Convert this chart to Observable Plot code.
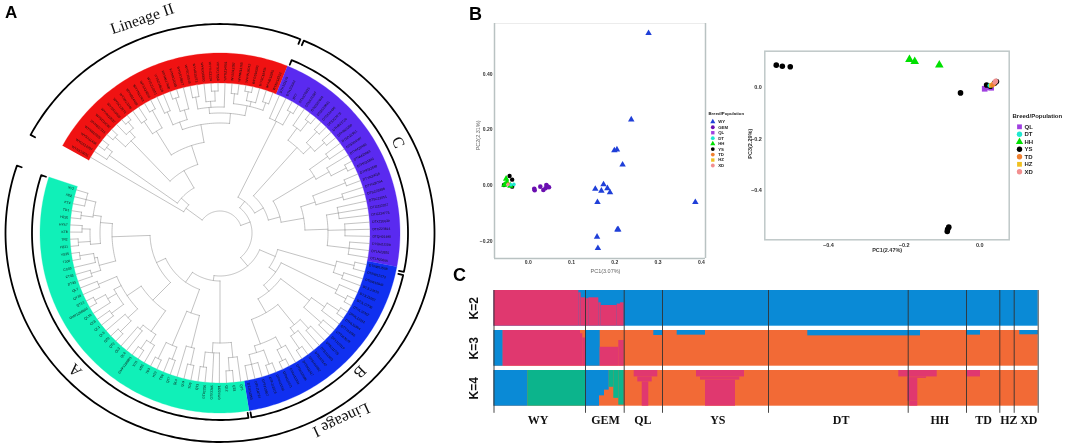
<!DOCTYPE html>
<html><head><meta charset="utf-8">
<script src="https://cdn.jsdelivr.net/npm/d3@7"></script>
<script src="https://cdn.jsdelivr.net/npm/@observablehq/plot@0.6"></script>
<style>
html,body{margin:0;padding:0;background:#fff;overflow:hidden}
#fig{position:relative;width:1065px;height:445px;overflow:hidden;filter:blur(.3px)}
#fig>svg{position:absolute;display:block}
.panel{position:absolute;font:bold 18px "Liberation Sans",sans-serif;color:#000;line-height:1}
</style></head><body><div id="fig"></div>
<script>
// ---------- A: tree data (angle in degrees clockwise from north, radii in tree units)
const sectors=[["II","#f01212",-61,22],["C","#5a2af0",22,100.8],["B","#1030f0",100.8,170.7],["A","#10f0b8",170.7,288.1]];
const redLabels="WYNX15031 WYGS12207 WYSX11438 WYNM10925 WYHB17316 WYSD14082 WYHN10637 WYGS15520 WYSC12971 WYNX13346 WYHB14418 WYYN11763 WYSX19204 WYGZ10351 WYSD16628 WYNM17490 WYHN12035 WYGS18817 WYSC10546 WYHB15273 WYNX16690 WYYN13124 WYSX17358 WYGZ14901 WYSD11287 WYNM13765 WYHN16042 WYGS10193 WYSC19436 WYHB12850 WYNX18312".split(" ");
const purpleLabels="DTXJ23176 DTXJ23042 DT7 DTNX20915 DTNX21387 DTGS22604 DTGS20831 DTSX24490 DTSX23175 DTHB21726 DTHB20368 DTSD22951 DTSD24107 DTNM20483 DTNM23669 DTHN21842 DTHN22530 DTYN24016 DTYN20794 DTSC23388 DTSC21051 DTGZ22267 DTGZ24773 DTXZ20639 DTXZ23814 DTQH21490 DTQH22108 DTLN23925 DTLN20266".split(" ");
const blueLabels="DTNW11508 DTNW12273 DTNW10946 DTJL13615 DTJL11082 DTJL12730 DTHL10457 DTHL13291 DTHL11864 DTTJ12046 DTTJ13578 DTTJ10319 DTBJ11725 DTBJ12693 DTBJ13140 DTSH10852 DTSH11417 DTSH12986 DTAH13304 DTAH10671 DTAH11539 DTFJ12218 DTFJ13867 DTFJ10724 DTJX11953".split(" ");
const greenLabels="QT5 QT8 QL2 GTX2281 GTX2285 GTX2290 QT3 TD9 QL9 QL4 QT7 TD6 HZ2 TD3 XD5 XD1 GMP1286851 QL6 QL3 QT2 QT9 QL5 QL1 QL8 QL10 GMP1286849 QT13 QY38 QL7 DT33 CT33 CC03 TJ06 YS25 HZ21 TR2 KT8 HYS7 HZ26 TD1 KT4 XD2 XY2".split(" ");
// node = [radius or [radius, angle], ...children]; a number child n is n leaves
const redClade=[[42,-54],1,[[52,-48],[135,1,[142,2]],[[72,-30],[[128,-44],[142,2],[136,1,[144,2]]],[[92,-18],[[120,-32],[135,1,1],[140,2]],[[110,-10],[[118,-20],[132,2],[128,[142,2],1]],[[120,5],[[126,-5],[138,2],[132,1,[142,2]],1],[[130,12],[140,2],[135,[144,2],1],[138,1,1]]]]]]]];
const cladeC=[[40,38],[125,2,[140,2]],[[50,60],[[115,42],[130,1,[142,2]],[125,[140,2],[138,1,1]]],[[62,75],[[110,59],[132,2],[125,1,[142,2]]],[[85,80],[[100,72],[135,2],[128,1,1]],[[108,88],[120,3],[125,3],[130,3]]]]]];
const cladeB=[[60,113],[[120,106],[138,2],[130,2]],[[68,125],[[130,116],1,[142,1,1]],[[76,140],[[112,127],[128,[142,2],1],[135,2]],[[92,150],[[118,141],[130,2],[125,1,[140,2]]],[[118,160],[130,1,[142,2]],[125,[140,2],[135,3]]]]]]];
const cladeA=[[48,188],[[110,180],[125,1,[138,2]],[120,2,[135,2]]],[[60,215],[[85,200],[[118,194],[135,2],1],[[122,203],[135,2],[140,2]]],[[70,245],[[95,225],[[120,215],[130,1,[140,2]],[125,2]],[[112,236],[125,[140,2],1],[[120,242],[135,2],[130,1,[142,2]]],[132,2]]],[[108,268],[[125,255],[135,2],[128,1,[142,2]]],[[120,275],[[130,265],[142,2],[138,2]],[[128,278],[140,2],[138,1,2]]]]]]];
const treeRoot=[22,redClade,[[32,70],cladeC,[[43,140],cladeB,cladeA]]];
const leafRadius=150;
const cladeArcs=[{name:"C",r:[188,187],a0:22.4,a1:102},{name:"B",r:[188,187],a0:103,a1:170.4},{name:"A",r:[188,187],a0:171.3,a1:288},
 {name:"Lineage II",r:[214.5,209],a0:-62,a1:22},{name:"Lineage I",r:[214.5,209],a0:23,a1:288.8}];
const cladeTexts=[{t:"Lineage II",a:-20,r:228,rot:-19},{t:"C",a:63,r:200,rot:68},{t:"B",a:134.8,r:197,rot:135},{t:"A",a:226.6,r:199.5,rot:226},{t:"Lineage I",a:147,r:223,rot:155}];

// ---------- B: PCA 1
const pc1Names=["WY","GEM","QL","DT","HH","YS","TD","HZ","XD"];
const pc1Colors=["#1f3fd8","#6a0fb0","#a040e0","#20e8d0","#00e000","#000000","#f08030","#f0c020","#f28f8f"];
const pc1Symbols=["triangle","circle","square","circle","triangle","circle","circle","square","circle"];
const wy1=[[.278,.547],[.238,.237],[.199,.126],[.205,.129],[.218,.075],[.174,.004],[.155,-.012],[.169,-.019],[.183,-.010],[.189,-.025],[.160,-.060],[.386,-.060],[.206,-.158],[.208,-.158],[.159,-.184],[.161,-.225]];
const gem1=[[.014,-.012],[.015,-.017],[.028,-.004],[.035,-.016],[.040,-.010],[.042,.002],[.045,-.004],[.048,-.006]];
const ys1=[[-.043,.034],[-.037,.021],[-.056,.002],[-.037,-.004]];
const hh1=[[-.051,.024],[-.055,.002],[-.041,-.001],[-.049,.012]];
const dt1=[[-.033,.004],[-.040,.003]];
const td1=[[-.046,.006]];
const xd1=[[-.047,.004]];

// ---------- B: PCA 2
const pc2Names=["QL","DT","HH","YS","TD","HZ","XD"];
const pc2Colors=["#a040e0","#20e8d0","#00e000","#000000","#f08030","#f0c020","#f28f8f"];
const pc2Symbols=["square","circle","triangle","circle","circle","square","circle"];
const ys2=[[-.538,.087],[-.522,.083],[-.501,.081],[-.051,-.021],[-.082,-.544],[-.085,-.552],[-.086,-.561],[.018,.010],[.028,.005],[.044,.023],[.039,.017]];
const hh2=[[-.186,.109],[-.172,.101],[-.107,.088]];
const ql2=[[.013,-.005],[.030,-.001],[.024,.001]];
const dt2=[[.026,.008]];
const td2=[[.033,.010],[.037,.014]];
const hz2=[[.030,.008],[.035,.012]];
const xd2=[[.040,.021],[.042,.025]];

// ---------- C: structure
const popNames=["WY","GEM","QL","YS","DT","HH","TD","HZ","XD"];
const popEdges=[0,91.5,130.2,168.5,274.5,414.2,472.5,505.8,520.2,544.2];
const popCenters=[44.2,111.5,148.8,223.8,347.2,445.8,489.5,514.8,534.8];
const kNames=["K=2","K=3","K=4"];
const blue="#0a8ad6",pink="#e0386f",orange="#f26a36",green="#0cb48c";
const rowBase=[blue,orange,orange];
// [x0, x1, q0, q1, colour]
const k2Blocks=[[0,84.8,0,1,pink],[84.8,87.2,.065,1,pink],[87.2,91.5,.205,1,pink],[91.5,94.8,.23,1,pink],[94.8,104.8,.205,1,pink],[104.8,107.2,.345,1,pink],[107.2,123.2,.42,1,pink],[123.2,126.5,.38,1,pink],[126.5,130.2,.345,1,pink]];
const k3Blocks=[[0,9.2,0,1,blue],[9.2,86.5,0,1,pink],[86.5,88.8,.09,1,pink],[88.8,91.5,.21,1,pink],[91.5,106.2,0,1,blue],[106.2,124.8,.47,1,pink],[124.8,130.2,.28,1,pink],[159.8,168.5,0,.14,blue],[183.2,211.5,0,.13,blue],[313.8,426.5,0,.15,blue],[472.5,486.5,0,.13,blue],[525.8,544.2,0,.12,blue]];
const k4Blocks=[[0,33.8,0,1,blue],[33.8,91.5,0,1,green],[91.5,105.5,0,1,blue],[105.5,110.5,0,.71,blue],[110.5,115.2,0,.55,blue],[115.2,119.8,0,.47,green],[119.8,124.8,0,.78,green],[124.8,130.2,0,.97,green],[140.2,163.8,0,.18,pink],[143.8,158.2,.18,.32,pink],[148.2,154.8,.32,1,pink],[202.5,250.5,0,.18,pink],[206.5,245.8,.18,.27,pink],[211.5,241.5,.27,1,pink],[404.8,443.2,0,.18,pink],[413.8,432.5,.18,.22,pink],[413.8,423.8,.22,.86,pink],[415.8,423.8,.86,1,pink],[472.5,486.5,0,.18,pink]];

// ---------- helpers
const fig=document.getElementById("fig");
function place(svg,l,t){svg.style.left=l+"px";svg.style.top=t+"px";fig.appendChild(svg);}
function letter(t,l,top,s){const d=document.createElement("div");d.className="panel";d.textContent=t;d.style.left=l+"px";d.style.top=top+"px";d.style.fontSize=s+"px";fig.appendChild(d);}
const cx=219.5,cy=232.5,rad=Math.PI/180;
const px=(a,r)=>cx+r*Math.sin(a*rad), py=(a,r)=>cy-r*Math.cos(a*rad);
function arc(a0,a1,rx,ry=rx){const n=Math.max(2,Math.ceil(Math.abs(a1-a0)));return d3.range(n+1).map(i=>{const a=a0+(a1-a0)*i/n;return [px(a,rx),py(a,ry)];});}

// layout the tree
const branchPaths=[],leaves=[];
const expand=n=>{const k=[];n.slice(1).forEach(c=>{if(typeof c==="number")for(let i=0;i<c;i++)k.push(null);else k.push(c);});return k;};
function countLeaves(n){return expand(n).reduce((s,c)=>s+(c?countLeaves(c):1),0);}
function layout(n,cursor){
  const rr=Array.isArray(n[0])?n[0][0]:n[0], over=Array.isArray(n[0])?n[0][1]:null;
  const as=expand(n).map(c=>{
    if(c)return layout(c,cursor);
    const a=cursor.next();leaves.push({a,sector:cursor.sector});return {a,r:leafRadius};
  });
  const lo=as[0].a,hi=as[as.length-1].a,own=over??(lo+hi)/2;
  branchPaths.push(arc(Math.min(lo,own),Math.max(hi,own),rr));
  as.forEach(k=>branchPaths.push([[px(k.a,rr),py(k.a,rr)],[px(k.a,k.r),py(k.a,k.r)]]));
  return {a:own,r:rr};
}
function cursorFor(sec,clade){const n=countLeaves(clade),st=(sec[3]-sec[2])/n;let i=0;return {sector:sec[0],next(){return sec[2]+st*(i++ +.5);}};}
const cladeCursor=new Map([[redClade,cursorFor(sectors[0],redClade)],[cladeC,cursorFor(sectors[1],cladeC)],[cladeB,cursorFor(sectors[2],cladeB)],[cladeA,cursorFor(sectors[3],cladeA)]]);
function walk(n){ // internal nodes above the four clades
  const rr=Array.isArray(n[0])?n[0][0]:n[0], over=Array.isArray(n[0])?n[0][1]:null;
  const as=n.slice(1).map(c=>cladeCursor.has(c)?layout(c,cladeCursor.get(c)):walk(c));
  const lo=as[0].a,hi=as[as.length-1].a,own=over??(lo+hi)/2;
  branchPaths.push(arc(lo,hi,rr));
  as.forEach(k=>branchPaths.push([[px(k.a,rr),py(k.a,rr)],[px(k.a,k.r),py(k.a,k.r)]]));
  return {a:own,r:rr};
}
walk(treeRoot);
const labelsBySector={II:redLabels.slice(),C:purpleLabels.slice(),B:blueLabels.slice(),A:greenLabels.slice()};
leaves.forEach(l=>{l.t=labelsBySector[l.sector].shift()||"";});
const toPts=(paths)=>paths.flatMap((p,i)=>p.map(q=>({x:q[0],y:q[1],i})));
const ringPts=sectors.flatMap(s=>[...arc(s[2],s[3],180),...arc(s[3],s[2],150)].map(q=>({x:q[0],y:q[1],s:s[1]})));
const bracketPaths=cladeArcs.map(b=>{const [rx,ry]=b.r,k=5;return [[px(b.a0,rx-k),py(b.a0,ry-k)],...arc(b.a0,b.a1,rx,ry),[px(b.a1,rx-k),py(b.a1,ry-k)]];});
const lab=leaves.filter(l=>l.t);
const rotR=d=>d.a-90, rotL=d=>d.a+90, isL=d=>((d.a+360)%360)>180;
const labelR=152.5;

// ---------- Panel A
place(Plot.plot({width:440,height:445,margin:0,style:{background:"transparent"},
  x:{domain:[0,440],range:[0,440],axis:null},y:{domain:[0,445],range:[0,445],axis:null},
  marks:[
    ...sectors.map(s=>Plot.line(ringPts.filter(d=>d.s===s[1]),{x:"x",y:"y",fill:s[1],stroke:s[1],strokeWidth:.3})),
    Plot.line(toPts(branchPaths),{x:"x",y:"y",z:"i",stroke:"#9a9a9a",strokeWidth:.6,curve:"linear"}),
    Plot.line(toPts(bracketPaths),{x:"x",y:"y",z:"i",stroke:"#000",strokeWidth:1.8,curve:"linear"}),
    Plot.text(lab.filter(d=>!isL(d)),{x:d=>px(d.a,labelR),y:d=>py(d.a,labelR),text:"t",rotate:rotR,textAnchor:"start",fontSize:3.3,fill:"#111",fontFamily:"Liberation Sans"}),
    Plot.text(lab.filter(isL),{x:d=>px(d.a,labelR),y:d=>py(d.a,labelR),text:"t",rotate:rotL,textAnchor:"end",fontSize:3.3,fill:"#111",fontFamily:"Liberation Sans"}),
    Plot.text(cladeTexts,{x:d=>px(d.a,d.r),y:d=>py(d.a,d.r),text:"t",rotate:"rot",fontSize:16,fill:"#111",fontFamily:"Liberation Serif"})
  ]}),0,0);

// ---------- Panel B scatter plots
function series(arr,sym,fill,r){return Plot.dot(arr,{x:d=>d[0],y:d=>d[1],symbol:sym,fill,r});}
const axisTitles1=[{t:"PC1(3.07%)",x:.1785,y:-.309,r:0},{t:"PC2(2.31%)",x:-.1148,y:.18,r:-90}];
const axisTitles2=[{t:"PC1(2.47%)",x:-.2448,y:-.632,r:0},{t:"PC3(2.29%)",x:-.608,y:-.219,r:-90}];
place(Plot.plot({width:290,height:275,marginLeft:34,marginRight:45,marginTop:23,marginBottom:17,
  style:{background:"transparent",fontFamily:"Liberation Sans",fontSize:"5px",fontWeight:"bold"},
  x:{domain:[-.0778,.4095]},y:{domain:[-.262,.5817]},
  marks:[
    Plot.axisX({ticks:[0,.1,.2,.3,.4],tickFormat:d3.format(".1f"),tickSize:0,tickPadding:2,label:null,fill:"#333"}),
    Plot.axisY({ticks:[-.2,0,.2,.4],tickFormat:d3.format(".2f"),tickSize:0,tickPadding:2,label:null,fill:"#333"}),
    Plot.text(axisTitles1,{x:"x",y:"y",text:"t",rotate:"r",fill:"#666",fontSize:5.5,fontWeight:"normal"}),
    Plot.ruleY([.5817],{stroke:"#ececec",strokeWidth:1}),
    Plot.ruleY([-.262],{stroke:"#b9c2c2",strokeWidth:1.5}),
    Plot.ruleX([-.0778,.4095],{stroke:"#b9c2c2",strokeWidth:1.5}),
    series(wy1,"triangle",pc1Colors[0],2.4),series(gem1,"circle",pc1Colors[1],2.3),
    series(ys1,"circle","#000",2.2),series(hh1,"triangle",pc1Colors[4],2.4),series(dt1,"circle",pc1Colors[3],1.8),
    series(td1,"circle",pc1Colors[6],1.5),series(xd1,"circle",pc1Colors[8],1.6)
  ]}),460,0);
place(Plot.plot({width:320,height:240,marginLeft:19.3,marginRight:56.3,marginTop:20.7,marginBottom:30.7,
  style:{background:"transparent",fontFamily:"Liberation Sans",fontSize:"5.5px",fontWeight:"bold"},
  x:{domain:[-.5683,.0777]},y:{domain:[-.5933,.1414]},
  marks:[
    Plot.axisX({ticks:[-.4,-.2,0],tickFormat:d3.format(".1f"),tickSize:0,tickPadding:3,label:null,fill:"#333"}),
    Plot.axisY({ticks:[-.4,-.2,0],tickFormat:d3.format(".1f"),tickSize:0,tickPadding:3,label:null,fill:"#333"}),
    Plot.text(axisTitles2,{x:"x",y:"y",text:"t",rotate:"r",fill:"#333",fontSize:5.5}),
    Plot.frame({stroke:"#bfc8c8",strokeWidth:1.5}),
    series(ql2,"square",pc2Colors[0],3.2),series(ys2,"circle","#000",2.8),series(hh2,"triangle",pc2Colors[2],3.2),
    series(dt2,"circle",pc2Colors[1],2.2),series(hz2,"square",pc2Colors[5],2.4),series(td2,"circle",pc2Colors[4],2.2),series(xd2,"circle",pc2Colors[6],2.6)
  ]}),745,30);

// ---------- legends
function legend(names,colors,syms,l,t,w,h,r0,r1,x0,x1,titleIdx,titleX,fs,dr){
  const rows=names.map((n,i)=>({n,i,c:colors[i],s:syms[i]}));
  place(Plot.plot({width:w,height:h,margin:0,style:{background:"transparent",fontFamily:"Liberation Sans"},
    x:{domain:[0,1],range:[x0,x1],axis:null},y:{domain:[0,names.length-1],range:[r0,r1],axis:null},
    marks:[
      Plot.dot(rows,{x:()=>0,y:"i",symbol:d=>d.s,fill:d=>d.c,r:dr}),
      Plot.text(rows,{x:()=>1,y:"i",text:"n",textAnchor:"start",fontSize:fs,fontWeight:"bold",fill:"#222"}),
      Plot.text(["Breed/Population"],{x:()=>titleX,y:()=>titleIdx,textAnchor:"start",fontSize:fs,fontWeight:"bold",fill:"#222"})
    ]}),l,t);
}
legend(pc1Names,pc1Colors,pc1Symbols,705,105,60,70,16.3,60,7.3,12.7,-1.5,-.8,4.3,1.9);
legend(pc2Names,pc2Colors,pc2Symbols,1007,108,58,70,18.3,63.3,12,17,-1.4,-1.4,6,2.7);

// ---------- Panel C
const blocks=[k2Blocks,k3Blocks,k4Blocks].flatMap((b,row)=>[[0,544.2,0,1,rowBase[row]],...b].map(d=>({x0:d[0],x1:d[1],y0:row+d[2]*.8925,y1:row+d[3]*.8925,c:d[4]})));
place(Plot.plot({width:615,height:180,marginLeft:43.5,marginRight:27.3,marginTop:25,marginBottom:27,style:{background:"transparent"},
  x:{domain:[0,544.2],axis:null},y:{domain:[0,3.2],range:[25,153],axis:null},
  marks:[
    Plot.rect(blocks,{x1:"x0",x2:"x1",y1:"y0",y2:"y1",fill:"c",inset:0}),
    Plot.ruleX(popEdges,{y1:0,y2:3.07,stroke:"#333",strokeWidth:.9}),
    Plot.text(popNames,{x:(d,i)=>popCenters[i],y:()=>3.25,text:d=>d,fontFamily:"Liberation Serif",fontWeight:"bold",fontSize:12,fill:"#111"}),
    Plot.text(kNames,{x:()=>-19.5,y:(d,i)=>i+.446,text:d=>d,rotate:-90,fontFamily:"Liberation Sans",fontSize:12,fontWeight:"bold",fill:"#111"})
  ]}),450,265);

letter("A",5,4,17);letter("B",469,5,18);letter("C",453,266,18);
</script></body></html>
